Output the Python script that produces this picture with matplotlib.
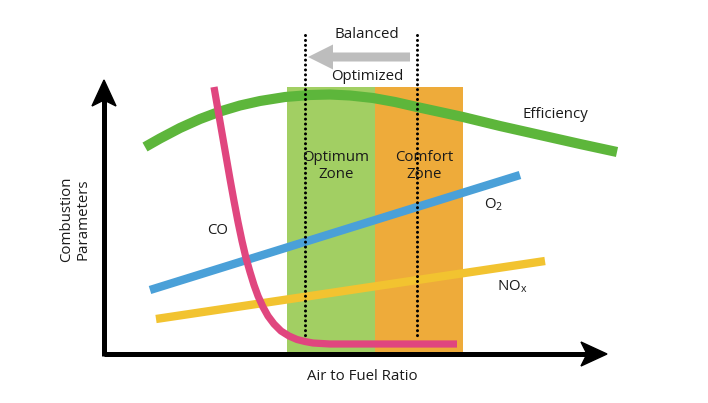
import numpy as np
import matplotlib
matplotlib.use("Agg")
import matplotlib.pyplot as plt
from matplotlib.patches import Polygon, Rectangle

plt.rcParams['font.family'] = ['Open Sans', 'DejaVu Sans']
plt.rcParams['mathtext.fontset'] = 'custom'
plt.rcParams['mathtext.rm'] = 'Open Sans'

# Schematic curves (pixel-like units, y measured downward from the top)
H = 403
eff_x = [145, 160, 180, 200, 220, 240, 260, 285, 310, 330, 350, 373, 395, 417,
         440, 463, 500, 540, 580, 617]
eff_y = [147, 138.5, 128, 119, 111.5, 105.5, 101, 97, 95, 94.5, 95.5, 98, 102, 107,
         112, 117, 126, 135, 144, 152]

co_x = [214, 218, 222, 226, 230, 234, 238, 242, 246, 250, 254, 258, 263,
        268, 274, 281, 289, 297, 305, 313, 330, 400, 457]
co_y = [87, 110, 133, 156, 179, 201, 222, 241, 258, 272, 285, 296, 307,
        316, 324, 331, 336, 339.5, 341.5, 343, 344, 344, 344]

o2_x = [150, 520]
o2_y = [290, 175]

nox_x = [156, 545]
nox_y = [319, 261]

zones = [("Optimum\nZone", 287, 375, "#a2cf63"), ("Comfort\nZone", 375, 463, "#eeab3a")]
zone_top = 87
dotted_x = [305, 417]

origin = (104, 354)
x_end = 607
y_end = 80

txt = '#1a1a1a'
fs = 10.8

fig = plt.figure(figsize=(7.08, 4.03), dpi=100)
ax = fig.add_axes([0, 0, 1, 1])
ax.set_xlim(0, 708)
ax.set_ylim(0, H)
ax.axis('off')

def fy(v):
    return H - np.asarray(v, dtype=float)

# zones
for label, x0, x1, col in zones:
    ax.add_patch(Rectangle((x0, fy(origin[1])), x1 - x0, origin[1] - zone_top,
                           color=col, zorder=1, lw=0))
    ax.text((x0 + x1) / 2 + 5, fy(166), label, ha='center', va='center',
            fontsize=fs, color=txt, zorder=7, linespacing=1.15)

# curves
ax.plot(eff_x, fy(eff_y), color='#5db63b', lw=7.3, solid_capstyle='butt',
        solid_joinstyle='round', zorder=2)
ax.plot(o2_x, fy(o2_y), color='#4aa0d8', lw=6, solid_capstyle='butt', zorder=3)
ax.plot(nox_x, fy(nox_y), color='#f2c330', lw=6, solid_capstyle='butt', zorder=3)
ax.plot(co_x, fy(co_y), color='#e0467f', lw=5.2, solid_capstyle='butt',
        solid_joinstyle='round', zorder=4)

# dotted lines
for dx in dotted_x:
    ax.plot([dx, dx], fy([35, 340]), color='black', lw=2.2,
            linestyle=(0, (0.01, 1.6)), dash_capstyle='round', zorder=5)

# axes arrows
ox, oy = origin
ax.plot([ox, x_end - 15], fy([oy, oy]), color='black', lw=3.6, solid_capstyle='butt', zorder=6)
ax.plot([ox, ox], fy([oy + 2, y_end + 15]), color='black', lw=3.6, solid_capstyle='butt', zorder=6)
ax.add_patch(Polygon([(x_end, fy(oy)), (x_end - 26, fy(oy - 12)), (x_end - 20, fy(oy)),
                      (x_end - 26, fy(oy + 12))], closed=True, color='black', zorder=6))
ax.add_patch(Polygon([(ox, fy(y_end)), (ox - 12, fy(y_end + 26)), (ox, fy(y_end + 20)),
                      (ox + 12, fy(y_end + 26))], closed=True, color='black', zorder=6))

# gray arrow
ax.arrow(410, fy(57), -77, 0, width=9, head_width=25, head_length=25,
         length_includes_head=False, color='#bdbdbd', lw=0, zorder=4)

# labels
ax.text(367, fy(34), "Balanced", ha='center', va='center', fontsize=fs, color=txt)
ax.text(367, fy(76), "Optimized", ha='center', va='center', fontsize=fs, color=txt)
ax.text(555, fy(114), "Efficiency", ha='center', va='center', fontsize=fs, color=txt)
ax.text(218, fy(231), "CO", ha='center', va='center', fontsize=fs, color=txt)
ax.text(484, fy(205), r"O$_\mathrm{2}$", ha='left', va='center', fontsize=fs, color=txt)
ax.text(497, fy(287), r"NO$_\mathrm{x}$", ha='left', va='center', fontsize=fs, color=txt)
ax.text(362, fy(377), "Air to Fuel Ratio", ha='center', va='center', fontsize=fs, color=txt)
ax.text(75, fy(219), "Combustion\nParameters", ha='center', va='center', fontsize=fs,
        rotation=90, color=txt, linespacing=1.15)

fig.savefig("out.png", dpi=100)
